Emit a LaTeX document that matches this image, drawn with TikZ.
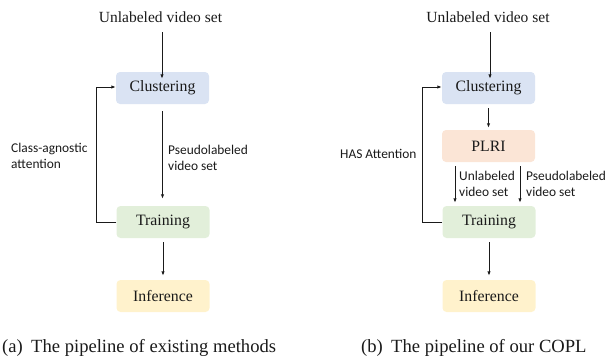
\documentclass[tikz,border=0pt]{standalone}
\usepackage{fontspec}
\setmainfont{Liberation Serif}
\newfontfamily\lblfont{Carlito}
\usetikzlibrary{arrows.meta}
\definecolor{cblue}{HTML}{DAE3F3}
\definecolor{cgreen}{HTML}{E2EFDA}
\definecolor{corange}{HTML}{FBE5D6}
\definecolor{cyellow}{HTML}{FFF2CC}
\definecolor{ink}{HTML}{1A1A1A}
\tikzset{
  box/.style={rounded corners=4pt, minimum width=93pt, minimum height=32pt, inner sep=0pt, text=ink, font=\fontsize{15.8}{18}\selectfont},
  intext/.style={inner sep=0pt, text=ink, font=\fontsize{15.5}{18}\selectfont},
  lbl/.style={inner sep=0pt, text=ink, align=left, font=\lblfont\fontsize{13.4}{16}\selectfont},
  captext/.style={inner sep=0pt, text=ink, font=\fontsize{18.6}{22}\selectfont},
  arr/.style={draw=ink, line width=0.9pt, -{Latex[length=4.5pt,width=3.4pt]}},
  ln/.style={draw=ink, line width=0.9pt}
}
\begin{document}
\begin{tikzpicture}[x=1pt,y=-1pt]
\useasboundingbox (0,0) rectangle (608,362);
% ---------- (a) ----------
\node[intext] (in1) at (160.5,17) {Unlabeled video set};
\node[box, fill=cblue] (clu1) at (162.5,88) {\raisebox{-1pt}{Clustering}};
\node[box, fill=cgreen] (tr1) at (163,222) {\raisebox{-1pt}{Training}};
\node[box, fill=cyellow] (inf1) at (163,296) {Inference};
\coordinate (in1b) at (162,32);
\draw[arr] (in1b) -- ([yshift=-7pt]clu1.north -| in1b);
\draw[arr] ([yshift=-7pt]clu1.south) -- ([yshift=7pt]tr1.north -| clu1.south);
\draw[arr] ([yshift=-4pt]tr1.south) -- ([yshift=4pt]inf1.north);
\coordinate (fb1) at (96,0);
\draw[ln] (tr1.west) -- (tr1.west -| fb1) -- ([yshift=1pt]clu1.west -| fb1);
\draw[arr] ([yshift=1pt]clu1.west -| fb1) -- ([yshift=1pt]clu1.west);
\node[lbl, anchor=west] (lblA) at (11,156) {Class-agnostic\\attention};
\node[lbl, anchor=west] (lblP) at (168,158) {Pseudolabeled\\video set};
\node[captext, anchor=west] (capa) at (2,348) {(a)\hspace{0.45em}The pipeline of existing methods};
% ---------- (b) ----------
\node[intext] (in2) at (488,17) {Unlabeled video set};
\node[box, fill=cblue] (clu2) at (488.5,88) {\raisebox{-1pt}{Clustering}};
\node[box, fill=corange] (pl2) at (488.5,146) {PLRI};
\node[box, fill=cgreen] (tr2) at (489,222) {\raisebox{-1pt}{Training}};
\node[box, fill=cyellow] (inf2) at (489,296) {Inference};
\coordinate (in2b) at (490,32);
\draw[arr] (in2b) -- ([yshift=-7pt]clu2.north -| in2b);
\draw[arr] ([yshift=-4pt]clu2.south) -- ([yshift=2pt]pl2.north);
\coordinate (pa) at (455,0);
\coordinate (pb) at (520,0);
\draw[arr] ([yshift=-4pt]pl2.south -| pa) -- ([yshift=3pt]tr2.north -| pa);
\draw[arr] ([yshift=-4pt]pl2.south -| pb) -- ([yshift=3pt]tr2.north -| pb);
\draw[arr] ([yshift=-4pt]tr2.south) -- ([yshift=4pt]inf2.north);
\coordinate (fb2) at (422,0);
\draw[ln] (tr2.west) -- (tr2.west -| fb2) -- ([yshift=1pt]clu2.west -| fb2);
\draw[arr] ([yshift=1pt]clu2.west -| fb2) -- ([yshift=1pt]clu2.west);
\node[lbl, anchor=west] (lblH) at (340,154) {HAS Attention};
\node[lbl, anchor=west] (lblU) at (459,184) {Unlabeled\\video set};
\node[lbl, anchor=west] (lblQ) at (526,184) {Pseudolabeled\\video set};
\node[captext, anchor=west] (capb) at (361,348) {(b)\hspace{0.45em}The pipeline of our COPL};
\end{tikzpicture}
\end{document}
